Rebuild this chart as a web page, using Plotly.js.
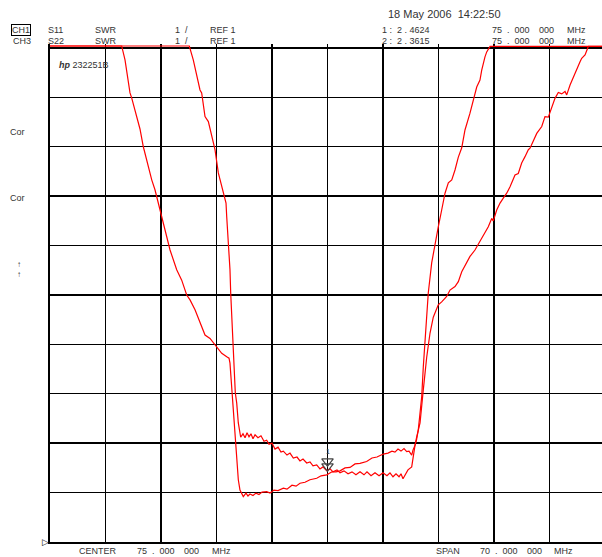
<!DOCTYPE html>
<html>
<head>
<meta charset="utf-8">
<script src="https://cdn.plot.ly/plotly-3.0.1.min.js"></script>
<style>html,body{margin:0;padding:0;background:#fff;}#chart{width:602px;height:557px;}</style>
</head>
<body>
<div id="chart"></div>
<script>
// Frequency in MHz, values in SWR
const s11Freq = [40,57.57,58.07,58.50,58.92,59.13,59.55,59.97,60.39,60.81,61.23,61.86,62.20,62.29,62.49,62.70,62.79,63.04,63.21,63.37,63.55,63.75,64.05,
64.34,64.60,64.85,65.10,65.35,65.60,65.86,66.23,66.61,66.99,67.33,67.62,68.00,68.38,68.76,69.13,69.43,69.89,70.27,70.69,71.15,71.53,71.91,72.38,72.79,73.17,73.64,74.05,74.43,74.90,75.32,75.69,76.20,76.58,77.08,77.59,78.09,78.59,79.10,79.60,79.98,80.49,80.99,81.50,82.00,82.50,82.88,83.26,83.64,84.02,84.27,84.52,84.78,85.15,85.62,85.82,86.04,86.25,86.45,86.67,87.08,87.51,87.93,88.34,88.97,89.40,90.03,90.45,91.08,91.50,91.93,92.56,92.97,93.60,94.23,94.65,95.28,95.71,95.91,96.34,96.76,97.17,97.60,98.02,98.43,98.65,99.06,99.49,99.91,100.33,100.54,101.39,102.02,102.43,102.85,103.28,103.69,104.11,104.54,104.96,105.17,105.59,106.01,106.43,106.85,107.06,107.48,107.90,110];
const s11Swr = [11.04,11.04,10.76,10.42,10.15,10.09,9.61,9.51,9.20,8.94,8.47,8.07,7.86,7.58,7.11,6.51,6.04,5.03,4.48,4.02,3.81,3.41,3.12,
3.19,3.11,3.21,3.13,3.19,3.09,3.17,3.11,3.15,3.04,3.06,2.98,3.00,2.88,2.92,2.82,2.84,2.76,2.80,2.70,2.72,2.64,2.68,2.60,2.62,2.54,2.56,2.48,2.52,2.44,2.48,2.42,2.46,2.40,2.44,2.38,2.42,2.36,2.42,2.36,2.42,2.34,2.40,2.34,2.40,2.34,2.40,2.32,2.38,2.32,2.38,2.28,2.36,2.46,2.52,2.76,2.96,3.13,3.27,3.41,4.08,4.74,5.23,5.55,5.80,5.86,5.97,6.10,6.17,6.27,6.47,6.64,6.78,6.91,7.08,7.21,7.38,7.55,7.50,7.72,7.86,7.96,8.06,8.19,8.33,8.43,8.46,8.67,8.80,8.94,8.97,9.27,9.41,9.61,9.60,9.78,9.98,10.10,10.07,10.12,10.05,10.25,10.42,10.59,10.72,10.79,10.86,11.03,11.03];

const s22Freq = [40,49.04,49.46,50.09,50.30,50.94,51.35,51.77,52.40,52.83,53.24,53.87,54.50,55.14,55.98,56.61,57.24,57.66,58.29,58.92,59.55,60.18,61.03,61.66,62.29,62.58,62.70,62.92,63.12,63.33,63.55,63.75,63.96,64.18,64.38,
64.72,64.97,65.22,65.60,65.98,66.36,66.74,67.33,67.75,68.25,68.76,69.43,69.89,70.52,71.03,71.53,72.16,72.79,73.64,74.19,74.90,75.57,76.07,76.58,77.21,77.84,78.47,79.10,79.94,80.61,81.24,82.04,82.63,83.13,83.51,83.89,84.27,84.65,84.99,85.28,85.62,85.78,86.04,86.22,86.45,86.67,86.88,87.08,87.30,87.51,87.71,88.14,88.56,88.97,89.40,89.82,90.24,90.67,91.08,91.50,91.93,92.34,92.97,93.60,93.82,94.23,94.45,94.86,95.08,95.50,110];
const s22Swr = [11.04,11.04,10.76,10.09,9.99,9.61,9.36,9.00,8.60,8.33,8.13,7.72,7.32,6.91,6.51,6.30,6.00,5.90,5.70,5.46,5.19,5.12,4.95,4.82,4.75,4.72,4.62,4.14,3.67,3.21,2.66,2.26,2.05,1.99,1.92,
1.99,1.93,1.97,1.94,1.99,1.96,2.01,2.02,1.99,2.05,2.04,2.09,2.07,2.15,2.13,2.19,2.21,2.26,2.29,2.34,2.36,2.42,2.42,2.44,2.50,2.51,2.58,2.59,2.63,2.70,2.72,2.78,2.80,2.84,2.82,2.88,2.84,2.89,2.83,2.84,2.76,2.86,2.96,3.06,3.27,3.61,3.94,4.54,5.03,5.55,6.04,6.65,7.05,7.38,7.72,8.06,8.27,8.33,8.53,8.79,8.98,9.34,9.68,10.05,10.21,10.35,10.55,10.82,10.92,11.03,11.03];

const markerFreq = [75, 75];
const markerSwr = [2.4624, 2.3615];
const markerLabels = ['1', '2'];

const FONT = 'Liberation Sans, Arial, sans-serif';
const TXT = '#333';
// plot area in pixels: left 50, right 602, top 44, bottom 542
function px2x(px){ return (px - 50) / 552; }
function px2y(py){ return (542 - py) / 498; }
function lbl(px, py, s, size, extra){
  return Object.assign({xref:'paper', yref:'paper', x:px2x(px), y:px2y(py), text:s, showarrow:false,
    xanchor:'left', yanchor:'middle', font:{family:FONT, size:size||9, color:TXT}}, extra||{});
}

const annotations = [
  lbl(386, 14, '18 May 2006&nbsp;&nbsp;14:22:50', 11),
  lbl(11, 30, 'CH1', 9, {bordercolor:'#000', borderwidth:1, borderpad:0}),
  lbl(46, 30, 'S11'), lbl(93, 30, 'SWR'), lbl(173, 30, '1&nbsp;&nbsp;/'), lbl(208, 30, 'REF 1'),
  lbl(380, 30, '1 :&nbsp;&nbsp;2 . 4624'),
  lbl(490, 30, '75&nbsp;&nbsp;.&nbsp;&nbsp;000'), lbl(537, 30, '000'), lbl(565, 30, 'MHz'),
  lbl(11, 41, 'CH3'),
  lbl(46, 41, 'S22'), lbl(93, 41, 'SWR'), lbl(173, 41, '1&nbsp;&nbsp;/'), lbl(208, 41, 'REF 1'),
  lbl(380, 41, '2 :&nbsp;&nbsp;2 . 3615'),
  lbl(490, 41, '75&nbsp;&nbsp;.&nbsp;&nbsp;000'), lbl(537, 41, '000'), lbl(565, 41, 'MHz'),
  lbl(57, 65, '<b><i>hp</i></b> 232251B', 9),
  lbl(8, 132, 'Cor'), lbl(8, 198, 'Cor'),
  lbl(15, 264, '↑', 8), lbl(15, 274, '↑', 8),
  lbl(40, 542, '▷', 9, {font:{family:'DejaVu Sans', size:9, color:'#000'}}),
  lbl(77, 551, 'CENTER'), lbl(135, 551, '75&nbsp;&nbsp;.&nbsp;&nbsp;000'), lbl(182, 551, '000'), lbl(210, 551, 'MHz'),
  lbl(434, 551, 'SPAN'), lbl(478, 551, '70&nbsp;&nbsp;.&nbsp;&nbsp;000'), lbl(525, 551, '000'), lbl(552, 551, 'MHz')
];
annotations.push({xref:'x', yref:'y', x:markerFreq[0], y:markerSwr[0], text:markerLabels[0], showarrow:false,
  xanchor:'center', yanchor:'bottom', yshift:13, font:{family:FONT, size:7, color:'#444'}});

const lineStyle = {color:'#ff0000', width:1.2};
const data = [
  {x:s11Freq, y:s11Swr, type:'scatter', mode:'lines', line:lineStyle, name:'S11', hoverinfo:'skip'},
  {x:s22Freq, y:s22Swr, type:'scatter', mode:'lines', line:lineStyle, name:'S22', hoverinfo:'skip'},
  {x:markerFreq, y:markerSwr.map(function(v){ return v + 0.17; }), type:'scatter', mode:'markers', hoverinfo:'skip',
   marker:{symbol:'triangle-down-open', size:10, color:'#444', line:{color:'#444', width:1.2}}, cliponaxis:false}
];

const axisCommon = {showgrid:true, gridcolor:'#000', gridwidth:1.4, zeroline:false, showticklabels:false,
  ticks:'', showline:true, linecolor:'#000', linewidth:2, mirror:false, fixedrange:true};
const layout = {
  width:602, height:557,
  margin:{l:50, r:0, t:44, b:15, pad:0},
  paper_bgcolor:'#fff', plot_bgcolor:'#fff',
  showlegend:false,
  xaxis:Object.assign({range:[40, 109.62], tick0:40, dtick:7}, axisCommon),
  yaxis:Object.assign({range:[1, 11.08], tick0:1, dtick:1}, axisCommon),
  annotations:annotations
};
Plotly.newPlot('chart', data, layout, {staticPlot:true, displayModeBar:false});
</script>
</body>
</html>
